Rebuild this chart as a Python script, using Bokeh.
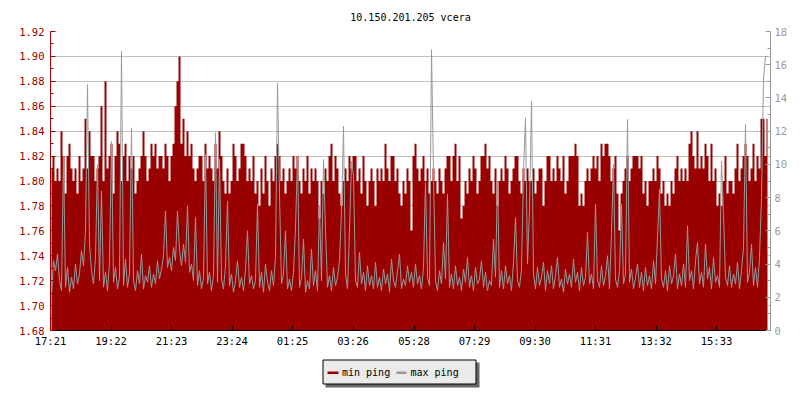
from bokeh.plotting import figure
from bokeh.models import Range1d, LinearAxis, FixedTicker, PrintfTickFormatter, ColumnDataSource
from bokeh.layouts import column
from bokeh.embed import file_html
from bokeh.resources import INLINE
from bokeh.core.properties import value

# ---------------- data ----------------
chart_title = "10.150.201.205 vcera"
step_minutes = 4  # one sample every 4 minutes, starting 17:21

min_ping = [
    1.81, 1.82, 1.80, 1.81, 1.80, 1.84, 1.82, 1.79, 1.82, 1.83, 1.81, 1.80, 1.81, 1.79, 1.82, 1.80, 1.81, 1.85, 1.81, 1.84,
    1.82, 1.82, 1.80, 1.81, 1.82, 1.86, 1.80, 1.88, 1.81, 1.82, 1.83, 1.79, 1.82, 1.84, 1.83, 1.80, 1.82, 1.83, 1.80, 1.82,
    1.81, 1.82, 1.79, 1.80, 1.81, 1.82, 1.84, 1.82, 1.80, 1.81, 1.83, 1.82, 1.83, 1.81, 1.82, 1.82, 1.81, 1.83, 1.82, 1.80,
    1.82, 1.83, 1.86, 1.88, 1.90, 1.83, 1.85, 1.82, 1.84, 1.82, 1.83, 1.81, 1.80, 1.81, 1.82, 1.82, 1.80, 1.83, 1.81, 1.82,
    1.81, 1.80, 1.83, 1.81, 1.84, 1.82, 1.80, 1.79, 1.81, 1.79, 1.80, 1.83, 1.82, 1.80, 1.81, 1.83, 1.83, 1.82, 1.80, 1.81,
    1.80, 1.82, 1.79, 1.80, 1.78, 1.81, 1.79, 1.82, 1.80, 1.78, 1.81, 1.80, 1.82, 1.83, 1.82, 1.80, 1.81, 1.79, 1.80, 1.81,
    1.80, 1.82, 1.81, 1.82, 1.80, 1.79, 1.81, 1.80, 1.82, 1.79, 1.81, 1.80, 1.81, 1.80, 1.77, 1.80, 1.79, 1.81, 1.80, 1.82,
    1.83, 1.80, 1.82, 1.81, 1.79, 1.78, 1.80, 1.81, 1.80, 1.82, 1.81, 1.82, 1.82, 1.80, 1.81, 1.79, 1.82, 1.80, 1.78, 1.80,
    1.81, 1.80, 1.78, 1.81, 1.80, 1.81, 1.80, 1.83, 1.81, 1.80, 1.82, 1.82, 1.80, 1.81, 1.79, 1.78, 1.80, 1.79, 1.81, 1.80,
    1.76, 1.82, 1.83, 1.81, 1.80, 1.81, 1.82, 1.80, 1.81, 1.79, 1.80, 1.81, 1.80, 1.79, 1.81, 1.80, 1.79, 1.81, 1.82, 1.82,
    1.80, 1.82, 1.83, 1.80, 1.82, 1.77, 1.78, 1.80, 1.79, 1.81, 1.80, 1.82, 1.81, 1.79, 1.80, 1.82, 1.82, 1.83, 1.81, 1.82,
    1.80, 1.79, 1.81, 1.78, 1.80, 1.81, 1.80, 1.82, 1.81, 1.79, 1.80, 1.81, 1.82, 1.82, 1.80, 1.79, 1.81, 1.80, 1.81, 1.80,
    1.80, 1.81, 1.79, 1.80, 1.81, 1.81, 1.78, 1.80, 1.82, 1.82, 1.80, 1.81, 1.80, 1.82, 1.81, 1.80, 1.82, 1.79, 1.80, 1.82,
    1.82, 1.82, 1.83, 1.82, 1.78, 1.79, 1.78, 1.80, 1.81, 1.80, 1.81, 1.82, 1.81, 1.82, 1.80, 1.83, 1.82, 1.83, 1.83, 1.82,
    1.80, 1.81, 1.82, 1.79, 1.76, 1.79, 1.80, 1.81, 1.82, 1.80, 1.81, 1.82, 1.82, 1.82, 1.81, 1.82, 1.79, 1.80, 1.78, 1.80,
    1.80, 1.81, 1.80, 1.82, 1.81, 1.79, 1.80, 1.78, 1.79, 1.78, 1.80, 1.79, 1.81, 1.82, 1.80, 1.81, 1.80, 1.81, 1.80, 1.83,
    1.84, 1.82, 1.81, 1.84, 1.81, 1.82, 1.81, 1.83, 1.82, 1.80, 1.83, 1.80, 1.81, 1.78, 1.79, 1.78, 1.80, 1.82, 1.79, 1.80,
    1.80, 1.79, 1.81, 1.83, 1.80, 1.81, 1.82, 1.83, 1.82, 1.80, 1.81, 1.83, 1.80, 1.82, 1.81, 1.85, 1.85, 1.82, 1.85,
]

max_ping = [
    2.0, 4.2, 3.6, 4.6, 3.0, 2.4, 10.5, 2.6, 3.8, 2.3, 3.2, 2.5, 4.0, 2.8, 3.4, 4.8, 3.9, 6.0, 14.8, 5.2,
    3.6, 2.8, 4.4, 10.0, 3.0, 8.4, 2.6, 3.5, 2.4, 4.1, 11.4, 2.9, 3.8, 2.5, 3.2, 16.8, 2.7, 4.3, 2.6, 3.4,
    12.2, 3.0, 2.4, 3.6, 2.8, 4.6, 2.5, 3.3, 2.9, 3.9, 2.6, 3.4, 2.8, 4.2, 3.1, 3.7, 4.5, 7.2, 3.8, 4.4,
    3.6, 5.0, 4.2, 7.2, 4.8, 3.9, 5.2, 4.1, 7.5, 3.5, 4.0, 3.0, 6.8, 2.7, 3.6, 2.5, 3.2, 10.6, 2.8, 3.5,
    2.4, 3.3, 11.9, 2.9, 10.3, 3.1, 2.5, 3.9, 7.8, 2.7, 3.4, 2.3, 3.0, 4.2, 2.6, 3.2, 2.4, 3.7, 6.0, 2.8,
    3.3, 2.5, 3.0, 7.6, 2.6, 3.5, 2.3, 4.0, 2.9, 2.4, 3.6, 2.7, 4.4, 14.9, 8.2, 2.8, 3.4, 6.0, 2.5, 3.1,
    2.4, 3.5, 6.2, 10.5, 2.6, 3.2, 5.5, 2.3, 3.0, 2.5, 4.9, 2.7, 3.6, 2.4, 7.5, 3.0, 10.3, 6.0, 2.6, 3.3,
    2.4, 3.8, 2.7, 3.2, 4.2, 7.2, 12.3, 3.4, 2.5, 6.0, 10.2, 9.3, 3.0, 2.6, 4.7, 2.8, 3.5, 2.4, 3.9, 2.7,
    3.3, 2.5, 4.1, 2.6, 3.2, 2.4, 3.7, 2.8, 3.4, 2.3, 4.3, 3.0, 2.6, 3.6, 4.6, 2.5, 3.1, 2.7, 3.9, 2.9,
    3.5, 2.6, 4.0, 2.8, 3.3, 2.5, 3.8, 8.9, 3.2, 2.7, 16.9, 9.5, 3.0, 2.4, 3.6, 2.8, 5.3, 3.1, 8.2, 2.6,
    3.4, 2.5, 3.9, 2.7, 3.2, 2.4, 3.7, 2.9, 4.4, 2.6, 3.3, 2.4, 3.8, 2.8, 3.1, 4.2, 2.6, 3.5, 2.4, 3.0,
    2.7, 5.5, 3.2, 9.0, 2.6, 3.6, 2.5, 3.9, 2.8, 3.3, 2.4, 4.1, 6.8, 3.0, 2.6, 3.7, 9.6, 12.8, 4.0, 7.3,
    13.8, 3.4, 2.5, 3.8, 2.7, 3.2, 4.1, 2.4, 3.6, 2.8, 3.9, 2.5, 3.3, 4.4, 2.6, 3.1, 2.3, 3.7, 2.8, 3.4,
    2.6, 4.3, 2.9, 3.5, 2.4, 3.8, 2.7, 3.2, 5.9, 2.8, 3.4, 2.5, 7.6, 3.0, 2.6, 3.9, 2.7, 3.3, 4.5, 2.5,
    5.9, 10.0, 3.1, 2.6, 3.6, 7.6, 2.8, 3.4, 12.7, 2.9, 3.7, 2.5, 3.2, 4.0, 2.6, 3.5, 2.4, 3.8, 2.7, 3.3,
    2.5, 4.2, 2.8, 5.6, 8.5, 3.1, 2.6, 3.6, 2.4, 3.9, 2.8, 3.3, 4.6, 2.5, 3.4, 2.7, 4.0, 2.6, 6.3, 3.0,
    3.6, 2.5, 4.2, 5.3, 2.8, 3.5, 2.6, 5.2, 3.1, 3.8, 2.5, 4.4, 2.9, 3.3, 2.6, 10.2, 7.0, 3.2, 2.7, 3.9,
    2.6, 3.4, 2.8, 4.1, 2.5, 3.6, 5.0, 12.4, 2.9, 3.5, 5.2, 2.7, 3.8, 2.6, 4.4, 8.0, 15.2, 16.5, 16.5,
]

# x tick positions: minutes after 17:21, and their labels
time_ticks = [0, 121, 242, 363, 484, 605, 727, 848, 969, 1090, 1211, 1332]
time_labels = ["17:21", "19:22", "21:23", "23:24", "01:25", "03:26",
               "05:28", "07:29", "09:30", "11:31", "13:32", "15:33"]
day_minutes = 1440

left_ticks = [1.68, 1.70, 1.72, 1.74, 1.76, 1.78, 1.80, 1.82, 1.84, 1.86, 1.88, 1.90, 1.92]
left_minor = [1.69, 1.71, 1.73, 1.75, 1.77, 1.79, 1.81, 1.83, 1.85, 1.87, 1.89, 1.91]
right_ticks = [0, 2, 4, 6, 8, 10, 12, 14, 16, 18]
right_minor = [1, 3, 5, 7, 9, 11, 13, 15, 17]

legend_labels = ["min ping", "max ping"]

# ---------------- styling ----------------
RED = "#990000"
GRAY = "#999999"
FONT = "DejaVu Sans Mono"
FS = "10px"
TICK_FS = "10.5px"

minutes = [i * step_minutes + step_minutes / 2 for i in range(len(min_ping))]
src = ColumnDataSource(dict(t=minutes, lo=[left_ticks[0]] * len(min_ping),
                            mn=min_ping, mx=max_ping))

W = 790
FRAME_L, FRAME_R = 50, 770
p = figure(width=W, height=352, output_backend="svg", toolbar_location=None,
           x_range=Range1d(0, day_minutes), y_range=Range1d(left_ticks[0], left_ticks[-1]),
           min_border_left=FRAME_L, min_border_right=W - FRAME_R, min_border_top=31, min_border_bottom=22)
p.extra_y_ranges = {"max": Range1d(right_ticks[0], right_ticks[-1])}
p.outline_line_color = None
p.background_fill_color = "white"

p.title.text = chart_title
p.title.align = "center"
p.title.text_font = FONT
p.title.text_font_size = FS
p.title.text_font_style = "normal"
p.title.text_color = "black"
p.title.standoff = 18

p.varea_step(x="t", y1="lo", y2="mn", step_mode="center", source=src,
             fill_color=RED, fill_alpha=1.0)
p.line(x="t", y="mx", source=src, y_range_name="max", line_color=GRAY, line_width=1)

# left axis
ya = p.yaxis[0]
ya.ticker = FixedTicker(ticks=left_ticks, minor_ticks=left_minor)
ya.formatter = PrintfTickFormatter(format="%.2f")
ya.axis_line_color = RED
ya.major_tick_line_color = RED
ya.minor_tick_line_color = RED
ya.major_tick_in = 5
ya.major_tick_out = 0
ya.minor_tick_in = 3
ya.minor_tick_out = 0
ya.major_label_text_color = RED
ya.major_label_text_font = FONT
ya.major_label_text_font_size = TICK_FS
ya.major_label_standoff = 6

# right axis
ra = LinearAxis(y_range_name="max", ticker=FixedTicker(ticks=right_ticks, minor_ticks=right_minor))
ra.axis_line_color = GRAY
ra.major_tick_line_color = GRAY
ra.minor_tick_line_color = GRAY
ra.major_tick_in = 5
ra.major_tick_out = 0
ra.minor_tick_in = 3
ra.minor_tick_out = 0
ra.major_label_text_color = GRAY
ra.major_label_text_font = FONT
ra.major_label_text_font_size = TICK_FS
ra.major_label_standoff = 4
p.add_layout(ra, "right")

# bottom axis
xa = p.xaxis[0]
xa.ticker = FixedTicker(ticks=time_ticks, minor_ticks=[])
xa.major_label_overrides = {t: l for t, l in zip(time_ticks, time_labels)}
xa.axis_line_color = "black"
xa.major_tick_line_color = "black"
xa.major_tick_in = 5
xa.major_tick_out = 0
xa.minor_tick_line_color = None
xa.major_label_text_color = "black"
xa.major_label_text_font = FONT
xa.major_label_text_font_size = TICK_FS
xa.major_label_standoff = 4

p.xgrid.visible = False
p.ygrid.ticker = FixedTicker(ticks=left_ticks)
p.ygrid.grid_line_color = "#c0c0c0"
p.ygrid.level = "underlay"

# ---------------- legend (own strip; its frame is aligned with the chart frame) ----------------
lg = figure(width=W, height=44, output_backend="svg", toolbar_location=None,
            x_range=Range1d(FRAME_L, FRAME_R), y_range=Range1d(44, 0),
            x_axis_location=None, y_axis_location=None, min_border=0)
lg.outline_line_color = None
lg.grid.visible = False
lg.quad(left=[325], right=[479], top=[10], bottom=[35], fill_color="#666666", line_color=None)
lg.quad(left=[322.5], right=[475.5], top=[7.5], bottom=[31.5], fill_color="#eaeaea",
        line_color="black", line_width=1)
lg.line(x=[327, 338], y=[20.3, 20.3], line_color=RED, line_width=2.5)
lg.line(x=[396, 406], y=[20.3, 20.3], line_color=GRAY, line_width=2.5)
lg.text(x=[341.5, 410], y=[19.5, 19.5], text=legend_labels, text_font=value(FONT),
        text_font_size=FS, text_color="black", text_baseline="middle", text_align="left")

layout = column(p, lg, spacing=0)
open("out.html", "w").write(file_html(layout, INLINE))
